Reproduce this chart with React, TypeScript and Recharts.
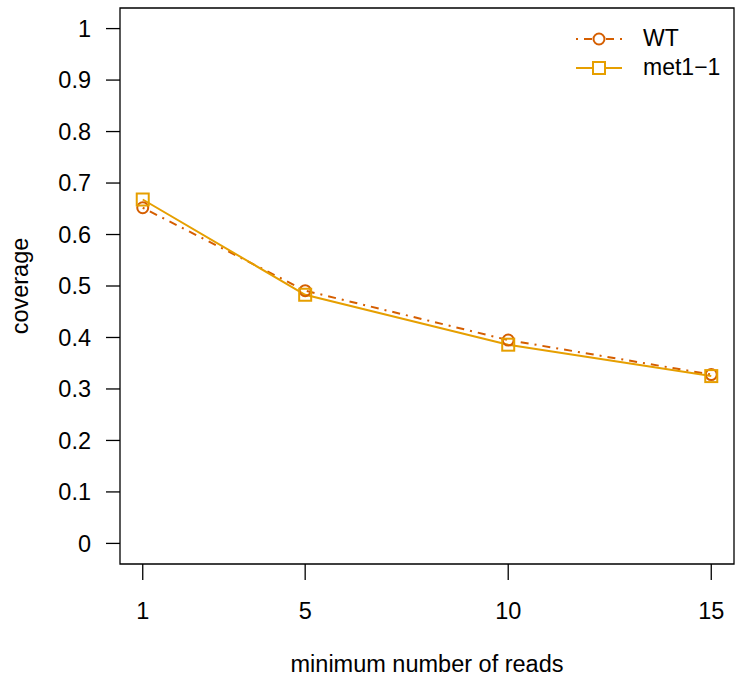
import { LineChart, Line, XAxis, YAxis, ReferenceArea } from "recharts"

const minReads = [1, 5, 10, 15]
const wtCoverage = [0.652, 0.491, 0.395, 0.328]
const met1Coverage = [0.668, 0.483, 0.386, 0.325]
const xTicks = [1, 5, 10, 15]
const yTicks = [0, 0.1, 0.2, 0.3, 0.4, 0.5, 0.6, 0.7, 0.8, 0.9, 1]
const seriesNames = ["WT", "met1\u22121"]

const WT_COLOR = "#D55E00"
const MET_COLOR = "#E69F00"
const FONT = "'Liberation Sans', Arial, sans-serif"
const FS = 23.5

const data = minReads.map((r, i) => ({ reads: r, wt: wtCoverage[i], met: met1Coverage[i] }))

const CircleDot = (props: any) => {
  const { cx, cy } = props
  if (cx == null || cy == null) return null
  return <circle cx={cx} cy={cy} r={5.5} fill="none" stroke={WT_COLOR} strokeWidth={2} />
}

const SquareDot = (props: any) => {
  const { cx, cy } = props
  if (cx == null || cy == null) return null
  return <rect x={cx - 6} y={cy - 6} width={12} height={12} fill="none" stroke={MET_COLOR} strokeWidth={2} />
}

const fmtY = (v: number) => String(Math.round(v * 10) / 10)

const LegendBox = () => (
  <div style={{ position: "absolute", left: 575, top: 24, fontFamily: FONT, fontSize: 23, color: "#000", lineHeight: "29px" }}>
    {seriesNames.map((name, i) => (
      <div key={name} style={{ display: "flex", alignItems: "center", height: 29 }}>
        <svg width={68} height={20}>
          {i === 0 ? (
            <>
              <line x1={1} y1={10} x2={47} y2={10} stroke={WT_COLOR} strokeWidth={2} strokeDasharray="2 6 8 6" />
              <circle cx={24} cy={10} r={5.5} fill="#fff" stroke={WT_COLOR} strokeWidth={2} />
            </>
          ) : (
            <>
              <line x1={1} y1={10} x2={47} y2={10} stroke={MET_COLOR} strokeWidth={2} />
              <rect x={18} y={4} width={12} height={12} fill="#fff" stroke={MET_COLOR} strokeWidth={2} />
            </>
          )}
        </svg>
        <span>{name}</span>
      </div>
    ))}
  </div>
)

const YTitle = (props: any) => {
  const vb = props.viewBox || {}
  const cy = (vb.y || 0) + (vb.height || 0) / 2
  return (
    <text x={28} y={cy} transform={`rotate(-90 28 ${cy})`} textAnchor="middle" fill="#000" fontSize={FS} fontFamily={FONT}>
      coverage
    </text>
  )
}

const XTitle = (props: any) => {
  const vb = props.viewBox || {}
  const cx = (vb.x || 0) + (vb.width || 0) / 2
  return (
    <text x={cx} y={672} textAnchor="middle" fill="#000" fontSize={FS} fontFamily={FONT}>
      minimum number of reads
    </text>
  )
}

export default function App() {
  return (
    <div style={{ position: "absolute", left: 0, top: 0, width: 735, height: 680, background: "#fff" }}>
      <LineChart width={735} height={680} data={data} margin={{ top: 8, right: 1, bottom: 0, left: 0 }}>
        <XAxis
          dataKey="reads"
          type="number"
          domain={[0.44, 15.56]}
          ticks={xTicks}
          axisLine={false}
          tickLine={{ stroke: "#000", strokeWidth: 1.3 }}
          tickSize={16}
          tickMargin={22}
          height={116}
          tick={{ fill: "#000", fontSize: FS, fontFamily: FONT }}
          label={<XTitle />}
        />
        <YAxis
          type="number"
          domain={[-0.04, 1.04]}
          ticks={yTicks}
          tickFormatter={fmtY}
          axisLine={false}
          tickLine={{ stroke: "#000", strokeWidth: 1.3 }}
          tickSize={14}
          tickMargin={15}
          width={120}
          tick={{ fill: "#000", fontSize: FS, fontFamily: FONT }}
          label={<YTitle />}
        />
        <ReferenceArea x1={0.44} x2={15.56} y1={-0.04} y2={1.04} fill="none" stroke="#000" strokeWidth={1.3} strokeOpacity={1} />
        <Line
          dataKey="wt"
          name={seriesNames[0]}
          stroke={WT_COLOR}
          strokeWidth={2}
          strokeDasharray="2 6 8 6"
          dot={<CircleDot />}
          activeDot={false}
          isAnimationActive={false}
        />
        <Line
          dataKey="met"
          name={seriesNames[1]}
          stroke={MET_COLOR}
          strokeWidth={2}
          dot={<SquareDot />}
          activeDot={false}
          isAnimationActive={false}
        />
      </LineChart>
      <LegendBox />
    </div>
  )
}
